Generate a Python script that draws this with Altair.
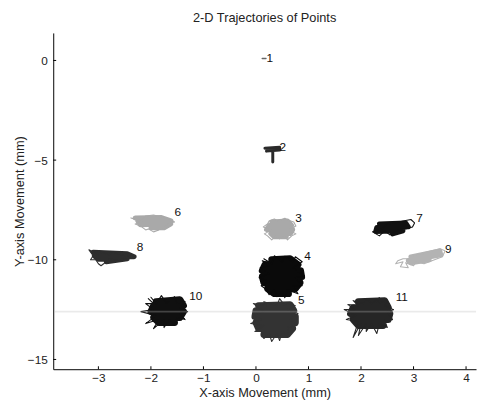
import altair as alt
import pandas as pd

# ---- data: trajectory traces (mm) ----
T1_X = [0.12, 0.19]
T1_Y = [0.1, 0.1]

T2_X = [0.17, 0.45, 0.45, 0.2, 0.25, 0.32, 0.32]
T2_Y = [-4.4, -4.35, -4.5, -4.55, -4.5, -4.55, -5.1]

T3_CORE_X = [0.3, 0.6, 0.68, 0.25, 0.2, 0.7, 0.66, 0.28, 0.35, 0.58]
T3_CORE_Y = [-8.1, -8.05, -8.28, -8.28, -8.48, -8.48, -8.68, -8.68, -8.85, -8.85]
T3_EDGE_X = [0.25, 0.35, 0.42, 0.55, 0.6, 0.72, 0.76, 0.62, 0.76, 0.68, 0.6, 0.55, 0.45, 0.38, 0.3, 0.22, 0.16, 0.3, 0.14, 0.22, 0.25]
T3_EDGE_Y = [-8.05, -7.95, -8.05, -7.92, -8.0, -8.1, -8.3, -8.5, -8.7, -8.8, -9.0, -8.8, -8.95, -8.8, -9.0, -8.8, -8.7, -8.5, -8.35, -8.2, -8.05]

T4_CORE_X = [0.3, 0.65, 0.8, 0.17, 0.12, 0.85, 0.87, 0.12, 0.15, 0.84, 0.75, 0.22, 0.35, 0.62]
T4_CORE_Y = [-10.0, -9.95, -10.25, -10.25, -10.55, -10.55, -10.85, -10.85, -11.15, -11.15, -11.45, -11.45, -11.7, -11.7]
T4_EDGE_X = [0.15, 0.3, 0.35, 0.5, 0.55, 0.7, 0.75, 0.88, 0.7, 0.92, 0.75, 0.88, 0.7, 0.8, 0.6, 0.55, 0.5, 0.4, 0.35, 0.25, 0.2, 0.1, 0.25, 0.06, 0.25, 0.08, 0.25, 0.12, 0.3, 0.15]
T4_EDGE_Y = [-9.95, -10.2, -9.8, -10.1, -9.82, -10.1, -9.85, -10.1, -10.4, -10.8, -10.9, -11.3, -11.3, -11.7, -11.5, -11.9, -11.6, -11.85, -11.5, -11.75, -11.5, -11.3, -11.1, -10.9, -10.7, -10.4, -10.3, -10.05, -10.2, -9.95]

T5_CORE_X = [0.05, 0.65, 0.72, 0.0, -0.02, 0.75, 0.75, 0.0, 0.05, 0.7, 0.6, 0.15]
T5_CORE_Y = [-12.3, -12.25, -12.55, -12.55, -12.85, -12.85, -13.15, -13.15, -13.45, -13.45, -13.75, -13.75]
T5_EDGE_X = [-0.05, 0.2, 0.15, 0.4, 0.45, 0.55, 0.6, 0.75, 0.6, 0.8, 0.65, 0.78, 0.6, 0.62, 0.5, 0.45, 0.4, 0.3, 0.25, 0.15, 0.1, -0.02, 0.15, -0.1, 0.1, -0.05, 0.15, -0.05]
T5_EDGE_Y = [-12.2, -12.3, -12.1, -12.3, -11.95, -12.3, -12.15, -12.3, -12.5, -12.7, -13.0, -13.3, -13.4, -13.85, -13.6, -14.05, -13.7, -14.1, -13.7, -13.95, -13.6, -13.6, -13.3, -13.2, -13.0, -12.8, -12.6, -12.2]

T6_CORE_X = [-2.3, -1.8, -1.62, -2.25, -2.2, -1.62, -1.75, -2.0]
T6_CORE_Y = [-7.9, -7.88, -8.05, -8.05, -8.25, -8.2, -8.4, -8.4]
T6_EDGE_X = [-2.38, -2.2, -2.1, -1.95, -1.8, -1.65, -1.55, -1.7, -1.75, -1.85, -1.95, -2.05, -2.1, -2.2, -2.3, -2.15, -2.38]
T6_EDGE_Y = [-7.9, -8.0, -7.8, -7.75, -7.85, -7.95, -8.1, -8.2, -8.35, -8.5, -8.6, -8.45, -8.5, -8.3, -8.2, -8.1, -7.9]

T7_CORE_X = [2.35, 2.85, 2.9, 2.3, 2.28, 2.8, 2.6]
T7_CORE_Y = [-8.2, -8.15, -8.35, -8.38, -8.58, -8.55, -8.7]
T7_EDGE_X = [2.22, 2.4, 2.5, 2.65, 2.8, 2.95, 3.02, 2.98, 2.85, 2.7, 2.55, 2.45, 2.35, 2.22]
T7_EDGE_Y = [-8.6, -8.45, -8.2, -8.15, -8.05, -7.98, -8.15, -8.35, -8.45, -8.5, -8.75, -8.55, -8.8, -8.6]

T8_CORE_X = [-3.1, -2.45, -2.32, -3.08, -3.0, -2.45, -2.85]
T8_CORE_Y = [-9.62, -9.7, -9.85, -9.8, -9.98, -9.95, -10.1]
T8_EDGE_X = [-3.18, -3.0, -3.05, -2.8, -2.75, -2.5, -2.3, -2.5, -2.6, -2.8, -2.9, -2.95, -3.0, -3.05, -3.15, -3.1, -3.18]
T8_EDGE_Y = [-9.5, -9.75, -9.55, -9.75, -9.6, -9.8, -9.85, -9.9, -10.05, -9.95, -10.2, -10.3, -10.2, -10.0, -10.0, -9.8, -9.5]

T9_CORE_X = [2.95, 3.5, 3.52, 2.9, 2.95, 3.3]
T9_CORE_Y = [-9.85, -9.55, -9.75, -10.05, -10.15, -10.0]
T9_EDGE_X = [2.66, 2.8, 2.75, 2.9, 2.85, 3.0, 3.05, 3.2, 3.4, 3.55, 3.6, 3.5, 3.35, 3.2, 3.15, 3.05, 2.95, 2.9, 2.8, 2.7, 2.66]
T9_EDGE_Y = [-10.2, -10.1, -10.35, -10.4, -10.15, -10.3, -10.1, -10.2, -10.0, -9.85, -9.55, -9.45, -9.55, -9.65, -9.75, -9.75, -9.85, -9.95, -9.95, -10.05, -10.2]

T10_CORE_X = [-1.9, -1.45, -1.38, -1.95, -2.0, -1.38, -1.45, -1.95, -1.85, -1.55]
T10_CORE_Y = [-12.1, -12.0, -12.3, -12.3, -12.6, -12.6, -12.9, -12.9, -13.15, -13.15]
T10_EDGE_X = [-2.0, -1.9, -1.8, -1.7, -1.55, -1.5, -1.35, -1.45, -1.3, -1.45, -1.35, -1.5, -1.55, -1.65, -1.75, -1.75, -1.95, -1.85, -2.1, -1.9, -2.19, -1.95, -2.1, -1.95, -2.05]
T10_EDGE_Y = [-11.88, -12.2, -11.8, -12.2, -11.85, -12.2, -12.1, -12.4, -12.6, -12.7, -13.0, -12.9, -13.3, -13.0, -13.4, -13.0, -13.45, -13.0, -13.2, -12.8, -12.6, -12.5, -12.2, -12.2, -11.95]

T11_CORE_X = [1.95, 2.45, 2.52, 1.85, 1.8, 2.55, 2.52, 1.85, 1.95, 2.42]
T11_CORE_Y = [-12.1, -12.05, -12.4, -12.4, -12.7, -12.7, -13.0, -13.0, -13.3, -13.3]
T11_EDGE_X = [1.75, 1.95, 1.85, 2.05, 2.1, 2.2, 2.35, 2.3, 2.5, 2.45, 2.62, 2.5, 2.6, 2.45, 2.5, 2.35, 2.3, 2.2, 2.1, 2.1, 1.95, 2.0, 1.85, 1.95, 1.72, 1.9, 1.68, 1.88, 1.75]
T11_EDGE_Y = [-12.25, -12.3, -12.05, -12.2, -11.95, -12.2, -11.9, -12.2, -12.05, -12.3, -12.5, -12.6, -13.0, -13.0, -13.4, -13.2, -13.7, -13.2, -13.6, -13.2, -13.8, -13.2, -13.9, -13.1, -13.0, -12.8, -12.5, -12.5, -12.25]

LABEL_TEXT = ["1", "2", "3", "4", "5", "6", "7", "8", "9", "10", "11"]
LABEL_X = [0.2, 0.45, 0.75, 0.92, 0.8, -1.55, 3.05, -2.27, 3.6, -1.27, 2.66]
LABEL_Y = [0.12, -4.33, -7.9, -9.8, -12.02, -7.62, -7.9, -9.38, -9.48, -11.84, -11.86]

X_TICKS = [-3, -2, -1, 0, 1, 2, 3, 4]
Y_TICKS = [0, -5, -10, -15]
STREAK_Y = [-12.6]   # faint horizontal streak across the scanned figure

# ---- styles ----
COLORS = {"1": "#666666", "2": "#2a2a2a", "3": "#a9a9a9", "4": "#0a0a0a", "5": "#333333",
          "6": "#a9a9a9", "7": "#111111", "8": "#2e2e2e", "9": "#b3b3b3", "10": "#101010", "11": "#262626"}
CORE_W = {"1": 1.5, "2": 3, "3": 5, "4": 7, "5": 7, "6": 5, "7": 5, "8": 5, "9": 5, "10": 7, "11": 7}

traces = [
    ("1", "core", T1_X, T1_Y),
    ("2", "core", T2_X, T2_Y),
    ("3", "core", T3_CORE_X, T3_CORE_Y), ("3", "edge", T3_EDGE_X, T3_EDGE_Y),
    ("4", "core", T4_CORE_X, T4_CORE_Y), ("4", "edge", T4_EDGE_X, T4_EDGE_Y),
    ("5", "core", T5_CORE_X, T5_CORE_Y), ("5", "edge", T5_EDGE_X, T5_EDGE_Y),
    ("6", "core", T6_CORE_X, T6_CORE_Y), ("6", "edge", T6_EDGE_X, T6_EDGE_Y),
    ("7", "core", T7_CORE_X, T7_CORE_Y), ("7", "edge", T7_EDGE_X, T7_EDGE_Y),
    ("8", "core", T8_CORE_X, T8_CORE_Y), ("8", "edge", T8_EDGE_X, T8_EDGE_Y),
    ("9", "core", T9_CORE_X, T9_CORE_Y), ("9", "edge", T9_EDGE_X, T9_EDGE_Y),
    ("10", "core", T10_CORE_X, T10_CORE_Y), ("10", "edge", T10_EDGE_X, T10_EDGE_Y),
    ("11", "core", T11_CORE_X, T11_CORE_Y), ("11", "edge", T11_EDGE_X, T11_EDGE_Y),
]
rows = []
for pid, part, xs_, ys_ in traces:
    w = CORE_W[pid] if part == "core" else 1.1
    for i, (xv, yv) in enumerate(zip(xs_, ys_)):
        rows.append({"pt": pid, "path": pid + "-" + part, "i": i, "x": xv, "y": yv,
                     "w": w, "c": COLORS[pid]})
df = pd.DataFrame(rows)

XDOM = [-3.86, 4.19]
YDOM = [-15.49, 1.38]
W, H = 430, 342
FONT = "Liberation Sans"

xs = alt.Scale(domain=XDOM, nice=False, zero=False)
ys = alt.Scale(domain=YDOM, nice=False, zero=False)

lines = alt.Chart(df).mark_line(strokeCap="round", strokeJoin="round").encode(
    x=alt.X("x:Q", scale=xs, title="X-axis Movement (mm)",
            axis=alt.Axis(values=X_TICKS, ticks=False, labelPadding=4, titlePadding=3)),
    y=alt.Y("y:Q", scale=ys, title="Y-axis Movement (mm)",
            axis=alt.Axis(values=Y_TICKS, ticks=False, labelPadding=6, titlePadding=1)),
    detail="path:N",
    order="i:Q",
    color=alt.Color("c:N", scale=None),
    strokeWidth=alt.StrokeWidth("w:Q", scale=None),
)

streak = alt.Chart(pd.DataFrame({"v": STREAK_Y})).mark_rule(
    color="#bbbbbb", opacity=0.3, strokeWidth=2
).encode(y=alt.Y("v:Q", scale=ys), x=alt.value(1), x2=alt.value(W))

labels = alt.Chart(pd.DataFrame({"t": LABEL_TEXT, "x": LABEL_X, "y": LABEL_Y})).mark_text(
    align="left", baseline="middle", font=FONT, fontSize=12, color="#111111"
).encode(x=alt.X("x:Q", scale=xs), y=alt.Y("y:Q", scale=ys), text="t:N")

xt = alt.Chart(pd.DataFrame({"v": X_TICKS})).mark_rule(color="#000000", strokeWidth=1).encode(
    x=alt.X("v:Q", scale=xs), y=alt.value(H), y2=alt.value(H - 3))
yt = alt.Chart(pd.DataFrame({"v": Y_TICKS})).mark_rule(color="#000000", strokeWidth=1).encode(
    y=alt.Y("v:Q", scale=ys), x=alt.value(0), x2=alt.value(3))

chart = alt.layer(lines, streak, labels, xt, yt).properties(
    width=W, height=H,
    title=alt.Title("2-D Trajectories of Points", font=FONT, fontSize=13, fontWeight="normal",
                    color="#222222", offset=8),
    autosize=alt.AutoSizeParams(type="none"),
    padding={"left": 46, "top": 22, "right": 2, "bottom": 32},
).configure_view(stroke=None).configure_axis(
    grid=False, domainColor="#000000", domainWidth=1,
    labelFont=FONT, labelFontSize=12, labelColor="#222222",
    titleFont=FONT, titleFontSize=13, titleFontWeight="normal", titleColor="#222222",
)

chart.save("out.html", embed_options={"renderer": "svg", "actions": False})
